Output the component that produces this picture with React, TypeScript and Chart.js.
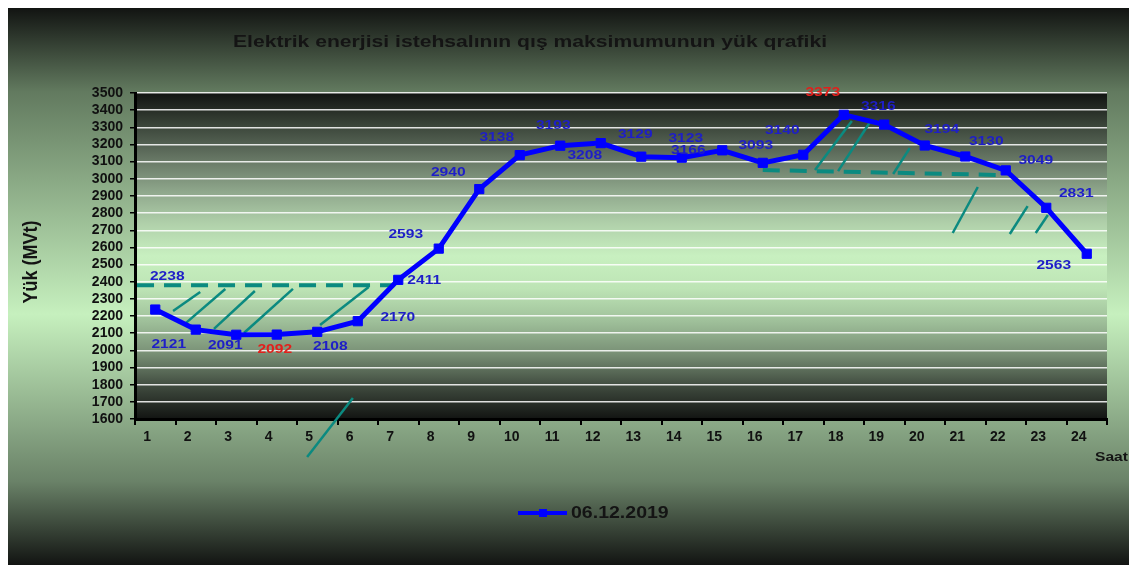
import React, { useEffect, useRef } from "react";
import { Chart, registerables } from "chart.js";
Chart.register(...registerables);

// ---- data ----
const hours = ["1","2","3","4","5","6","7","8","9","10","11","12","13","14","15","16","17","18","19","20","21","22","23","24"];
const load = [2238,2121,2091,2092,2108,2170,2411,2593,2940,3138,3193,3208,3129,3123,3166,3093,3140,3373,3316,3194,3130,3049,2831,2563];
const seriesName = "06.12.2019";
const chartTitle = "Elektrik enerjisi istehsalının qış maksimumunun yük qrafiki";
const yTitle = "Yük (MVt)";
const xTitle = "Saat";
const yMin = 1600;
const yMax = 3500;
const yStep = 100;
const redLabelIdx = [3, 17];

// annotation segments in data space: [xIndex1, value1, xIndex2, value2]
const dashedSegments = [
  [-0.45, 2380, 5.9, 2380],
  [15.0, 3051, 20.88, 3022],
];
const hatchSegments = [
  [0.44, 2229, 1.11, 2340],
  [0.76, 2160, 1.73, 2358],
  [1.45, 2125, 2.46, 2346],
  [2.19, 2101, 3.40, 2358],
  [4.07, 2148, 5.27, 2369],
  [3.75, 1379, 4.88, 1722],
  [16.29, 3051, 17.20, 3337],
  [16.86, 3045, 17.65, 3331],
  [18.22, 3028, 18.63, 3179],
  [19.69, 2684, 20.31, 2952],
  [21.10, 2678, 21.54, 2841],
  [21.74, 2684, 22.04, 2789],
];

// label offsets (style): pixel offsets from each point
const labelOffsets = [
  [12,-33],[-27,15],[-11,11],[-2,15],[13,15],[40,-4],[26,1],[-33,-14],[-31,-17],[-23,-18],[-7,-20],[-16,12],
  [-6,-22],[4,-19],[-34,0],[-7,-17],[-21,-24],[-21,-22],[-6,-18],[17,-16],[21,-15],[30,-10],[30,-14],[-33,12],
];

const FONT = "'Liberation Sans', Arial, sans-serif";
const W = 1121;
const H = 557;

function stretched(ctx: CanvasRenderingContext2D, text: string, x: number, y: number, font: string, color: string, sx: number, align: CanvasTextAlign) {
  ctx.save();
  ctx.font = font;
  ctx.fillStyle = color;
  ctx.textBaseline = "middle";
  ctx.textAlign = align;
  ctx.translate(x, y);
  ctx.scale(sx, 1);
  ctx.fillText(text, 0, 0);
  ctx.restore();
}

const decorPlugin = {
  id: "decor",
  beforeDraw(chart: any) {
    const ctx = chart.ctx as CanvasRenderingContext2D;
    const g = ctx.createLinearGradient(0, 0, 0, H);
    g.addColorStop(0, "#121412");
    g.addColorStop(0.15, "#627a5f");
    g.addColorStop(0.55, "#c6f0be");
    g.addColorStop(0.85, "#6a8268");
    g.addColorStop(1, "#121412");
    ctx.save();
    ctx.fillStyle = g;
    ctx.fillRect(0, 0, W, H);
    const a = chart.chartArea;
    const p = ctx.createLinearGradient(0, a.top, 0, a.bottom);
    p.addColorStop(0, "#111311");
    p.addColorStop(0.1, "#3b453a");
    p.addColorStop(0.2, "#657563");
    p.addColorStop(0.3, "#8ea68b");
    p.addColorStop(0.4, "#b0d0aa");
    p.addColorStop(0.5, "#c8f0c0");
    p.addColorStop(0.6, "#bde4b5");
    p.addColorStop(0.7, "#9fc09a");
    p.addColorStop(0.8, "#788f75");
    p.addColorStop(0.9, "#3f4a3e");
    p.addColorStop(1, "#121412");
    ctx.fillStyle = p;
    ctx.fillRect(a.left, a.top, a.right - a.left, a.bottom - a.top);
    ctx.restore();
  },
  beforeDatasetsDraw(chart: any) {
    const ctx = chart.ctx as CanvasRenderingContext2D;
    const xs = chart.scales.x;
    const ys = chart.scales.y;
    ctx.save();
    ctx.strokeStyle = "#0b8a80";
    ctx.lineCap = "butt";
    ctx.lineWidth = 2.5;
    for (const s of hatchSegments) {
      ctx.beginPath();
      ctx.moveTo(xs.getPixelForValue(s[0]), ys.getPixelForValue(s[1]));
      ctx.lineTo(xs.getPixelForValue(s[2]), ys.getPixelForValue(s[3]));
      ctx.stroke();
    }
    ctx.lineWidth = 4;
    ctx.setLineDash([17, 10]);
    for (const s of dashedSegments) {
      ctx.beginPath();
      ctx.moveTo(xs.getPixelForValue(s[0]), ys.getPixelForValue(s[1]));
      ctx.lineTo(xs.getPixelForValue(s[2]), ys.getPixelForValue(s[3]));
      ctx.stroke();
    }
    ctx.restore();
  },
  afterDraw(chart: any) {
    const ctx = chart.ctx as CanvasRenderingContext2D;
    // title
    ctx.save();
    ctx.font = `bold 17px ${FONT}`;
    const tw = ctx.measureText(chartTitle).width;
    ctx.restore();
    stretched(ctx, chartTitle, 522, 34, `bold 17px ${FONT}`, "#141414", 594 / tw, "center");
    // y title
    ctx.save();
    ctx.translate(23, 254);
    ctx.rotate(-Math.PI / 2);
    ctx.font = `bold 18px ${FONT}`;
    ctx.fillStyle = "#141414";
    ctx.textAlign = "center";
    ctx.textBaseline = "middle";
    ctx.scale(1, 1.15);
    ctx.fillText(yTitle, 0, 0);
    ctx.restore();
    // x title
    stretched(ctx, xTitle, 1087, 449, `bold 13px ${FONT}`, "#141414", 1.2, "left");
    // legend
    ctx.save();
    ctx.strokeStyle = "#0000ff";
    ctx.lineWidth = 4;
    ctx.beginPath();
    ctx.moveTo(510, 505);
    ctx.lineTo(559, 505);
    ctx.stroke();
    ctx.fillStyle = "#0000ff";
    ctx.fillRect(531, 501, 8, 8);
    ctx.restore();
    stretched(ctx, seriesName, 563, 506, `bold 16px ${FONT}`, "#141414", 1.22, "left");
    // data labels
    const meta = chart.getDatasetMeta(0);
    meta.data.forEach((pt: any, i: number) => {
      const off = labelOffsets[i];
      const red = redLabelIdx.includes(i);
      stretched(ctx, String(load[i]), pt.x + off[0], pt.y + off[1], `bold 13px ${FONT}`, red ? "#e2201c" : "#1e1ec8", 1.2, "center");
    });
  },
};

export default function App() {
  const ref = useRef<HTMLCanvasElement>(null);
  useEffect(() => {
    if (!ref.current) return;
    const chart = new Chart(ref.current, {
      type: "line",
      data: {
        labels: hours,
        datasets: [
          {
            label: seriesName,
            data: load,
            borderColor: "#0000ff",
            backgroundColor: "#0000ff",
            borderWidth: 5,
            pointStyle: "rect",
            pointRadius: 6.5,
            pointBorderWidth: 1,
            pointBackgroundColor: "#0000ff",
            pointBorderColor: "#0000ff",
            tension: 0,
          },
        ],
      },
      options: {
        responsive: false,
        animation: false,
        events: [],
        layout: { padding: { left: 0, right: 22, top: 85, bottom: 106 } },
        plugins: { legend: { display: false }, title: { display: false }, tooltip: { enabled: false } },
        scales: {
          x: {
            offset: true,
            grid: { display: true, drawOnChartArea: false, offset: true, tickColor: "#000", tickLength: 6, lineWidth: 2 },
            border: { color: "#000", width: 3 },
            ticks: { font: { family: FONT, size: 14, weight: "bold" }, color: "#111", labelOffset: -8, maxRotation: 0, autoSkip: false, padding: 4 },
            afterFit: (s: any) => { s.height = 40; },
          },
          y: {
            min: yMin,
            max: yMax,
            grid: { color: "rgba(255,255,255,0.85)", lineWidth: 1.5, tickColor: "#000", tickLength: 5, drawTicks: true },
            border: { color: "#000", width: 3 },
            ticks: {
              stepSize: yStep,
              autoSkip: false,
              font: { family: FONT, size: 14, weight: "bold" },
              color: "#111",
              padding: 7,
              callback: (v: any) => String(v),
            },
            afterFit: (s: any) => { s.width = 127; },
          },
        },
      },
      plugins: [decorPlugin],
    } as any);
    return () => chart.destroy();
  }, []);
  return (
    <div style={{ position: "fixed", left: 8, top: 8, width: W, height: H }}>
      <canvas ref={ref} width={W} height={H} style={{ display: "block", width: W, height: H }} />
    </div>
  );
}
